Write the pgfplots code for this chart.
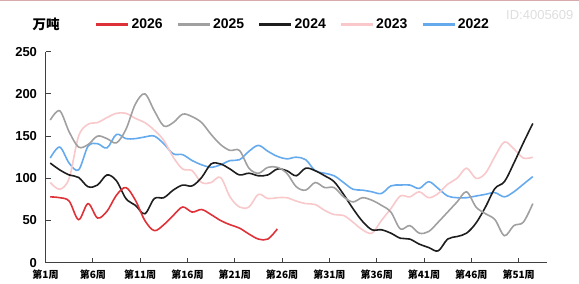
\documentclass[border=0pt]{standalone}
\usepackage{pgfplots}
\pgfplotsset{compat=1.18}
\usepackage{fontspec}
\setmainfont{Liberation Sans}
\newfontfamily\cjk{Noto Sans CJK SC}
\definecolor{c26}{RGB}{222,50,56}
\definecolor{c25}{RGB}{160,160,160}
\definecolor{c24}{RGB}{30,30,30}
\definecolor{c23}{RGB}{248,200,202}
\definecolor{c22}{RGB}{102,170,238}
\begin{document}
\begin{tikzpicture}
\path[use as bounding box] (0,0) rectangle (579pt,284pt);
\draw[color={rgb,255:red,215;green,170;blue,172}, line width=1.2pt] (0,283.4pt) -- (579pt,283.4pt);
\begin{axis}[
  at={(45.5pt,21.3pt)}, anchor=south west,
  scale only axis, width=501.5pt, height=211pt,
  xmin=1, xmax=54, ymin=0, ymax=250,
  axis x line*=bottom, axis y line*=left,
  axis line style={color=black!75, line width=1pt},
  xtick={1,6,11,16,21,26,31,36,41,46,51},
  xticklabels={第1周,第6周,第11周,第16周,第21周,第26周,第31周,第36周,第41周,第46周,第51周},
  ytick={0,50,100,150,200,250},
  tick align=inside, major tick length=5pt,
  tick style={color=black!75, line width=0.9pt},
  xticklabel style={font=\cjk\bfseries\fontsize{10}{10}\selectfont, yshift=-4pt},
  yticklabel style={font=\bfseries\fontsize{13}{13}\selectfont, xshift=-5pt},
  /pgf/number format/assume math mode=true,
  legend columns=-1,
  reverse legend,
  legend style={draw=none, fill=none, at={(0.0987,1.128)}, anchor=west,
    inner sep=0pt, font=\bfseries\fontsize{14}{14}\selectfont,
    /tikz/every even column/.append style={column sep=12pt}},
  legend cell align=left,
  legend image code/.code={\draw[#1, line width=2.4pt] (0pt,0pt) -- (32pt,0pt);},
  every axis plot/.append style={line width=1.6pt, smooth, tension=0.55, no markers},
]
% 2022
\addplot[color=c22] coordinates {
(1.5,124)(2.5,137)(3.5,118)(4.5,110)(5.5,138)(6.5,141)(7.5,136)(8.5,152)(9.5,147)(10.5,147)
(11.5,149)(12.5,150)(13.5,141)(14.5,129)(15.5,128)(16.5,121)(17.5,116)(18.5,113)(19.5,116)(20.5,121)
(21.5,122)(22.5,132)(23.5,139)(24.5,132)(25.5,126)(26.5,123)(27.5,125)(28.5,122)(29.5,109)(30.5,106)
(31.5,103)(32.5,95)(33.5,87)(34.5,86)(35.5,84)(36.5,82)(37.5,91)(38.5,92)(39.5,92)(40.5,88)
(41.5,96)(42.5,88)(43.5,79)(44.5,77)(45.5,77)(46.5,79)(47.5,81)(48.5,83)(49.5,78)(50.5,84)
(51.5,93)(52.5,102)};
% 2023
\addplot[color=c23] coordinates {
(1.5,95)(2.5,87)(3.5,100)(4.5,150)(5.5,164)(6.5,166)(7.5,172)(8.5,177)(9.5,177)(10.5,171)
(11.5,166)(12.5,157)(13.5,145)(14.5,125)(15.5,111)(16.5,109)(17.5,95)(18.5,95)(19.5,101)(20.5,78)
(21.5,66)(22.5,66)(23.5,81)(24.5,76)(25.5,77)(26.5,77)(27.5,73)(28.5,70)(29.5,69)(30.5,62)
(31.5,57)(32.5,56)(33.5,48)(34.5,39)(35.5,35)(36.5,50)(37.5,64)(38.5,79)(39.5,78)(40.5,84)
(41.5,77)(42.5,82)(43.5,93)(44.5,100)(45.5,112)(46.5,100)(47.5,106)(48.5,126)(49.5,143)(50.5,135)
(51.5,124)(52.5,125)};
% 2024
\addplot[color=c24] coordinates {
(1.5,118)(2.5,110)(3.5,104)(4.5,101)(5.5,90)(6.5,92)(7.5,104)(8.5,97)(9.5,76)(10.5,68)
(11.5,58)(12.5,76)(13.5,77)(14.5,86)(15.5,92)(16.5,91)(17.5,101)(18.5,117)(19.5,117)(20.5,111)
(21.5,104)(22.5,106)(23.5,103)(24.5,104)(25.5,111)(26.5,109)(27.5,103)(28.5,112)(29.5,109)(30.5,103)
(31.5,96)(32.5,81)(33.5,64)(34.5,49)(35.5,39)(36.5,39)(37.5,35)(38.5,29)(39.5,28)(40.5,22)
(41.5,18)(42.5,14)(43.5,28)(44.5,31)(45.5,35)(46.5,47)(47.5,66)(48.5,88)(49.5,96)(50.5,118)
(51.5,142)(52.5,165)};
% 2025
\addplot[color=c25] coordinates {
(1.5,169)(2.5,180)(3.5,155)(4.5,137)(5.5,140)(6.5,150)(7.5,147)(8.5,142)(9.5,158)(10.5,188)
(11.5,200)(12.5,180)(13.5,162)(14.5,166)(15.5,176)(16.5,173)(17.5,166)(18.5,152)(19.5,140)(20.5,133)
(21.5,133)(22.5,112)(23.5,106)(24.5,113)(25.5,113)(26.5,106)(27.5,90)(28.5,86)(29.5,95)(30.5,89)
(31.5,89)(32.5,78)(33.5,72)(34.5,77)(35.5,74)(36.5,68)(37.5,60)(38.5,40)(39.5,44)(40.5,35)
(41.5,37)(42.5,48)(43.5,60)(44.5,72)(45.5,84)(46.5,66)(47.5,58)(48.5,51)(49.5,32)(50.5,44)
(51.5,48)(52.5,70)};
% 2026
\addplot[color=c26] coordinates {
(1.5,78)(2.5,77)(3.5,73)(4.5,51)(5.5,70)(6.5,53)(7.5,61)(8.5,80)(9.5,89)(10.5,74)
(11.5,50)(12.5,38)(13.5,45)(14.5,56)(15.5,66)(16.5,60)(17.5,63)(18.5,57)(19.5,50)(20.5,45)
(21.5,41)(22.5,34)(23.5,28)(24.5,28)(25.5,40)};
\legend{2022,2023,2024,2025,2026}
\end{axis}
\node[font=\cjk\bfseries\fontsize{13.5}{13.5}\selectfont] at (46pt,259.3pt) {万吨};
\node[anchor=west, text=black!13, font=\fontsize{13}{13}\selectfont, inner sep=0pt] at (506pt,269pt) {ID:4005609};
\end{tikzpicture}
\end{document}
